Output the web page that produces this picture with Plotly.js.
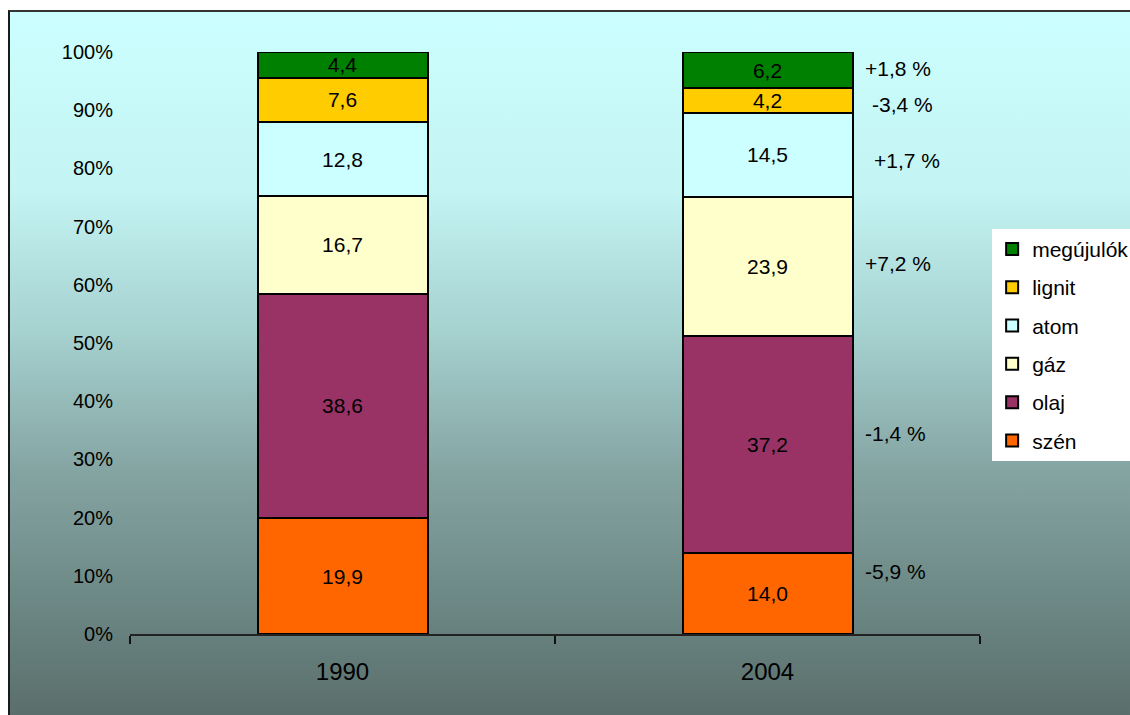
<!DOCTYPE html>
<html>
<head>
<meta charset="utf-8">
<script src="https://cdn.plot.ly/plotly-3.0.1.min.js"></script>
<style>
  html, body { margin: 0; padding: 0; background: #ffffff; }
  #wrap { position: relative; width: 1130px; height: 715px; overflow: hidden; }
  #bg {
    position: absolute; left: 8px; top: 10px; width: 1124px; height: 707px;
    border-left: 2px solid #1a1a1a; border-top: 2px solid #333333;
    background: linear-gradient(to bottom, #ccffff 0%, #c4f4f4 25%, #a6d2d0 45%, #84a4a2 65%, #6a8582 85%, #5a6e6b 100%);
  }
  #chart { position: absolute; left: 0; top: 0; width: 1130px; height: 715px; }
</style>
</head>
<body>
<div id="wrap">
  <div id="bg"></div>
  <div id="chart"></div>
</div>
<script>
// Energy mix shares (%) for the two years
const years = ['1990', '2004'];
const seriesNames = ['szén', 'olaj', 'gáz', 'atom', 'lignit', 'megújulók'];
const szen      = [19.9, 14.0];
const olaj      = [38.6, 37.2];
const gaz       = [16.7, 23.9];
const atom      = [12.8, 14.5];
const lignit    = [7.6, 4.2];
const megujulok = [4.4, 6.2];
const changeLabels = ['-5,9 %', '-1,4 %', '+7,2 %', '+1,7 %', '-3,4 %', '+1,8 %'];
const yTicks = [0, 10, 20, 30, 40, 50, 60, 70, 80, 90, 100];

const seriesValues = [szen, olaj, gaz, atom, lignit, megujulok];
const seriesColors = ['#ff6600', '#993366', '#ffffcc', '#ccffff', '#ffcc00', '#008000'];

const FONT = 'Arial, "Liberation Sans", sans-serif';

// Topmost stack segment is listed first in the legend
const traces = seriesNames.map((name, i) => ({
  type: 'bar',
  name: name,
  legendgroup: name,
  legendrank: seriesNames.length - i,
  x: years,
  y: seriesValues[i],
  width: 0.4,
  marker: { color: seriesColors[i], line: { color: '#000000', width: 2 } },
  texttemplate: '%{y:.1f}',
  textposition: 'inside',
  insidetextanchor: 'middle',
  textangle: 0,
  textfont: { family: FONT, size: 21, color: '#000000' },
  hoverinfo: 'skip'
}));

// Label placement for the 1990→2004 change column, per series
const changeY = [10.7, 34.4, 63.7, 81.3, 90.9, 97.1];
const changeShift = [0, 0, 0, 9, 7, 0];
const annotations = changeLabels.map((t, i) => ({
  xref: 'paper', yref: 'y',
  x: 0.8624, y: changeY[i],
  xanchor: 'left', yanchor: 'middle',
  xshift: changeShift[i],
  text: t, showarrow: false,
  font: { family: FONT, size: 21, color: '#000000' }
}));

const layout = {
  width: 1130, height: 715,
  margin: { l: 130, r: 150, t: 52, b: 81, pad: 0, autoexpand: false },
  paper_bgcolor: 'rgba(0,0,0,0)',
  plot_bgcolor: 'rgba(0,0,0,0)',
  barmode: 'stack',
  separators: ', ',
  font: { family: FONT, size: 20, color: '#000000' },
  uniformtext: { mode: 'show', minsize: 21 },
  showlegend: true,
  legend: {
    xref: 'container', yref: 'container',
    x: 0.878, xanchor: 'left',
    y: 0.68, yanchor: 'top',
    bgcolor: '#ffffff', borderwidth: 0,
    traceorder: 'grouped',
    tracegroupgap: 8,
    font: { family: FONT, size: 21, color: '#000000' }
  },
  xaxis: {
    type: 'category',
    range: [-0.5, 1.5],
    showline: true, linecolor: '#222222', linewidth: 1.5,
    ticks: 'outside', tickson: 'boundaries', ticklen: 8, tickcolor: '#111111', tickwidth: 1.5,
    ticklabelstandoff: 16,
    showgrid: false, zeroline: false,
    tickfont: { family: FONT, size: 24, color: '#000000' },
    fixedrange: true
  },
  yaxis: {
    range: [0, 100],
    tickvals: yTicks,
    ticktext: yTicks.map(v => v + '%'),
    showline: false, showgrid: false, zeroline: false,
    ticks: '',
    ticklabelstandoff: 16,
    tickfont: { family: FONT, size: 20, color: '#000000' },
    fixedrange: true
  },
  annotations: annotations
};

Plotly.newPlot('chart', traces, layout, { displayModeBar: false, staticPlot: true });
</script>
</body>
</html>
